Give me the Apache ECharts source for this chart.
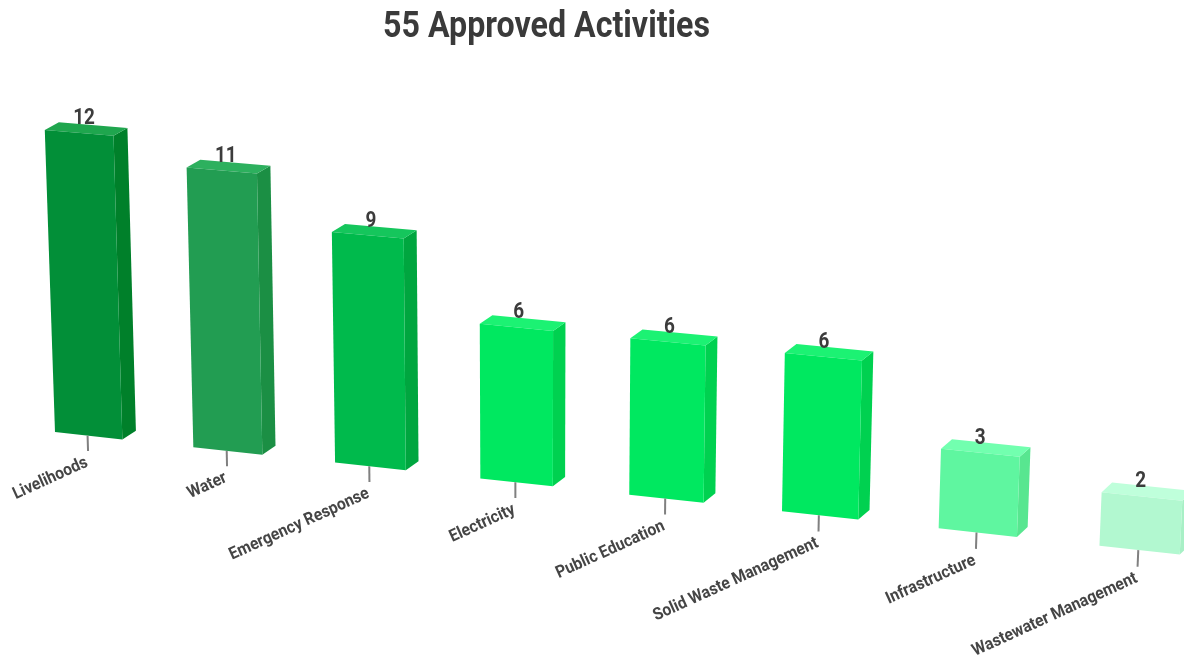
<!DOCTYPE html>
<html>
<head>
<meta charset="utf-8">
<style>html,body{margin:0;padding:0;background:#fff}#c{width:1184px;height:661px}</style>
<script src="https://cdn.jsdelivr.net/npm/echarts@6/dist/echarts.min.js"></script>
</head>
<body>
<div id="c"></div>
<script>
const titleText = '55 Approved Activities';
const categories = ['Livelihoods','Water','Emergency Response','Electricity','Public Education','Solid Waste Management','Infrastructure','Wastewater Management'];
const counts = [12,11,9,6,6,6,3,2];
const frontColors = ['#028f38','#229d52','#00ba4c','#00e860','#00e860','#00e860','#5ff6a0','#b2f8d0'];
const sideColors  = ['#00802a','#1b8f44','#00a63f','#00d150','#00d150','#00d150','#58e690','#a8f0c6'];
const topColors   = ['#1fa64e','#2db05e','#15c65c','#1cf273','#1cf273','#1cf273','#72ffaf','#bfffdb'];

const PROJ = {originX:54, originY:432, unitX:136, unitY:25.4, k:0.012, m:0.00175, slope:9.7, lean:0.93, dx:14, dy:-7, dw:0.004};
function warp(px, py, d){
  const i = (px - PROJ.originX)/PROJ.unitX;
  const v = (PROJ.originY - py)/PROJ.unitY;
  const w = 1 - PROJ.k*i - PROJ.m*v + PROJ.dw*d;
  return [(px - PROJ.lean*v + PROJ.dx*d)/w, (py + PROJ.slope*i + PROJ.dy*d)/w];
}
const LABEL_FONT = 'Roboto, sans-serif';
function renderItem(params, api){
  const idx = api.value(0), val = api.value(1);
  const band = api.size([1,0])[0];
  const half = band*0.245;
  const c0 = api.coord([idx,0]), c1 = api.coord([idx,val]), cTick = api.coord([idx,-0.62]);
  const L = c0[0]-half, R = c0[0]+half;
  const y0 = c0[1], y1 = c1[1];
  const P = (x,y,d)=>warp(x,y,d);
  const poly = (pts,fill)=>({type:'polygon',silent:true,shape:{points:pts},style:{fill:fill}});
  const tickTop = P(c0[0]-1,y0,0), tickBot = P(c0[0]-1,cTick[1],0);
  const valPos = P(c0[0],y1,0.5);
  const rad = 24.5*Math.PI/180;
  return {type:'group',children:[
    poly([P(R,y1,0),P(R,y1,1),P(R,y0,1),P(R,y0,0)], sideColors[idx]),
    poly([P(L,y1,0),P(L,y1,1),P(R,y1,1),P(R,y1,0)], topColors[idx]),
    poly([P(L,y1,0),P(R,y1,0),P(R,y0,0),P(L,y0,0)], frontColors[idx]),
    {type:'line',silent:true,shape:{x1:tickTop[0],y1:tickTop[1],x2:tickBot[0],y2:tickBot[1]},style:{stroke:'#808080',lineWidth:2}},
    {type:'text',silent:true,x:valPos[0]-2-0.6*idx,y:valPos[1]-10,scaleX:0.86,
      style:{text:String(val),x:0,y:0,align:'center',verticalAlign:'middle',fill:'#3c3c3c',font:'bold 22px '+LABEL_FONT}},
    {type:'text',silent:true,x:tickBot[0]-1,y:tickBot[1]+11,rotation:rad,scaleX:0.92,
      style:{text:categories[idx],x:0,y:0,align:'right',verticalAlign:'middle',fill:'#454545',font:'bold 17px '+LABEL_FONT}}
  ]};
}
const chart = echarts.init(document.getElementById('c'),null,{renderer:'canvas'});
chart.setOption({
  animation:false,
  backgroundColor:'#ffffff',
  graphic:[{type:'text',silent:true,x:546.5,y:28,scaleX:0.894,
    style:{text:titleText,x:0,y:0,align:'center',verticalAlign:'middle',fill:'#3a3a3a',font:'bold 36px '+LABEL_FONT}}],
  grid:{left:55-0.255*136,top:432-14*25.4,width:8*136,height:14*25.4,containLabel:false},
  xAxis:{type:'category',data:categories,show:false},
  yAxis:{type:'value',min:0,max:14,show:false},
  tooltip:{show:false},
  series:[{type:'custom',clip:false,renderItem:renderItem,encode:{x:0,y:1},
    data:counts.map((c,i)=>[i,c])}]
});
</script>
</body>
</html>
